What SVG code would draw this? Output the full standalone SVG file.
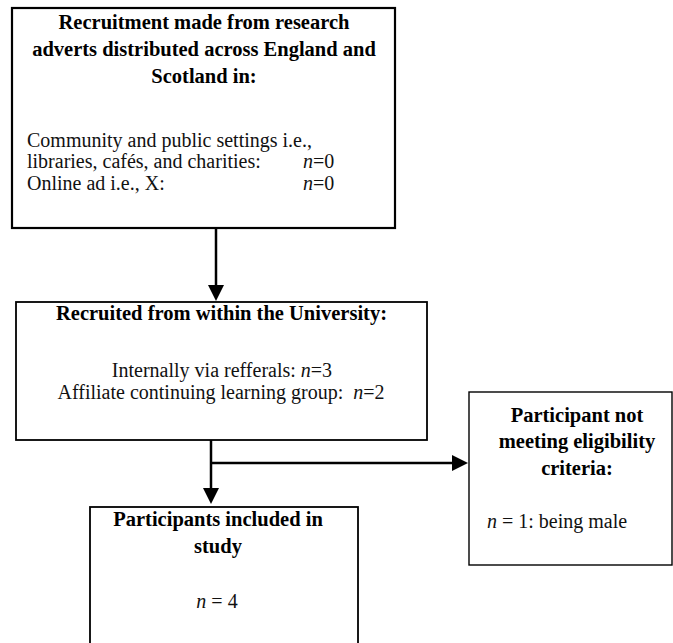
<svg xmlns="http://www.w3.org/2000/svg" width="673" height="643" viewBox="0 0 673 643">
<style>
  .box { fill: #fff; stroke: #000; }
  .b { font-family: "Liberation Serif", "Times New Roman", serif; font-weight: bold; font-size: 20.5px; fill: #000; }
  .r { font-family: "Liberation Serif", "Times New Roman", serif; font-size: 20px; fill: #111; }
  .c { text-anchor: middle; }
  .conn { stroke: #000; stroke-width: 2.5; fill: none; }
</style>
<defs>
  <marker id="ah" markerUnits="userSpaceOnUse" markerWidth="16" markerHeight="17" refX="0" refY="8" orient="auto">
    <path d="M0,0 L16,8 L0,16 Z" fill="#000"/>
  </marker>
</defs>
<rect width="673" height="643" fill="#fff"/>

<g id="node-adverts">
  <rect class="box" x="12" y="8" width="383" height="220" stroke-width="2.2"/>
  <text class="b c" x="204" y="29">Recruitment made from research</text>
  <text class="b c" x="204" y="56">adverts distributed across England and</text>
  <text class="b c" x="204" y="83">Scotland in:</text>
  <text class="r" x="27" y="147">Community and public settings i.e.,</text>
  <text class="r" x="27" y="168">libraries, cafés, and charities:</text>
  <text class="r" x="303" y="168"><tspan font-style="italic">n</tspan>=0</text>
  <text class="r" x="27" y="190">Online ad i.e., X:</text>
  <text class="r" x="303" y="190"><tspan font-style="italic">n</tspan>=0</text>
</g>

<g id="node-university">
  <rect class="box" x="16" y="302" width="411" height="138" stroke-width="1.8"/>
  <text class="b c" x="221.5" y="320">Recruited from within the University:</text>
  <text class="r c" x="222" y="377">Internally via refferals: <tspan font-style="italic">n</tspan>=3</text>
  <text class="r c" x="221" y="399">Affiliate continuing learning group: &#160;<tspan font-style="italic">n</tspan>=2</text>
</g>

<g id="node-excluded">
  <rect class="box" x="469" y="392" width="203" height="173" stroke-width="1.4"/>
  <text class="b c" x="577" y="422">Participant not</text>
  <text class="b c" x="577" y="448">meeting eligibility</text>
  <text class="b c" x="577" y="475">criteria:</text>
  <text class="r" x="487" y="528"><tspan font-style="italic">n</tspan> = 1: being male</text>
</g>

<g id="node-included">
  <rect class="box" x="90" y="507" width="268" height="150" stroke-width="1.8"/>
  <text class="b c" x="218" y="526">Participants included in</text>
  <text class="b c" x="218" y="553">study</text>
  <text class="r c" x="217" y="608"><tspan font-style="italic">n</tspan> = 4</text>
</g>

<g id="connectors">
  <line class="conn" x1="216" y1="228" x2="216" y2="285" marker-end="url(#ah)"/>
  <line class="conn" x1="211" y1="440" x2="211" y2="488" marker-end="url(#ah)"/>
  <line class="conn" x1="211" y1="463" x2="452" y2="463" marker-end="url(#ah)"/>
</g>
</svg>
